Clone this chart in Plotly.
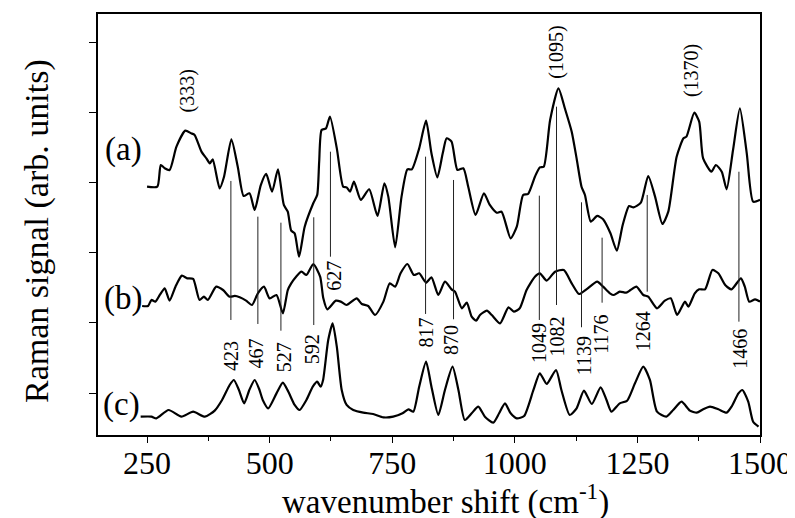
import plotly.graph_objects as go

# ---------------- data ----------------
a_x = [250, 271, 278, 286, 296, 310, 328, 340, 347, 361, 371, 378, 384, 398, 407, 422, 435, 447, 459, 469.5,
       482, 493, 505, 517, 529, 537, 544, 551, 560, 571.5, 589, 597, 601, 606, 615, 623, 637, 650, 657, 664,
       672, 686, 703, 720, 734, 742, 756, 769, 781, 790, 805, 819, 830, 842, 853, 861, 871, 883, 895, 905,
       920, 937, 949, 963, 973, 991.5, 1004, 1017, 1027, 1041, 1051, 1059, 1072, 1089, 1102, 1116, 1126, 1136, 1143, 1155,
       1168, 1180, 1195, 1208, 1220, 1233, 1242, 1257, 1272, 1286, 1301, 1313, 1330, 1344, 1350, 1366, 1376, 1384, 1401, 1410,
       1422, 1432, 1445, 1459, 1473, 1486, 1500]
a_y = [2.947, 2.947, 3.257, 3.21, 3.186, 3.519, 3.748, 3.71, 3.686, 3.448, 3.352, 3.281, 3.338, 2.924, 3.09, 3.624, 3.233, 2.814, 2.852, 2.614,
       2.971, 3.129, 2.876, 3.195, 2.686, 2.59, 2.319, 2.281, 1.948, 2.376, 2.71, 2.83, 3.3, 3.757, 3.78, 3.95, 3.495, 2.947, 2.938, 2.876,
       3.019, 2.757, 2.91, 2.529, 2.995, 2.805, 2.081, 2.805, 3.195, 3.195, 3.495, 3.89, 3.424, 3.081, 3.424, 3.638, 3.59, 3.186, 3.21, 2.947,
       2.543, 2.852, 2.686, 2.576, 2.59, 2.21, 2.376, 2.829, 2.843, 3.09, 3.224, 3.233, 3.9, 4.352, 4.067, 3.733, 3.352, 2.947, 2.829, 2.448,
       2.529, 2.481, 2.281, 2.033, 2.4, 2.671, 2.652, 2.719, 3.1, 2.805, 2.414, 2.59, 3.376, 3.638, 3.662, 4.005, 3.876, 3.352, 3.162, 3.257,
       3.162, 2.91, 3.471, 4.067, 3.424, 2.733, 2.76]

b_x = [240, 252, 259, 267, 276, 286, 296, 308, 321, 332, 344, 357, 366, 374, 391, 405, 418.5, 429, 439, 452,
       464, 476, 488.5, 500, 514, 527, 537, 544, 554, 565, 575, 589, 603, 609.5, 617.5, 635, 645, 657, 677.5, 688,
       701, 715, 732, 745, 756, 767, 781, 794, 805, 819, 830, 844, 857.5, 871, 878, 892, 902, 912, 921, 929,
       943, 953, 970, 987, 998, 1010, 1024, 1041, 1051, 1065, 1082, 1100, 1116, 1131, 1146, 1168, 1180, 1194, 1202, 1214,
       1227, 1236, 1248, 1262, 1272, 1290, 1306, 1318, 1331, 1347, 1354, 1367, 1376, 1388, 1403, 1415, 1429, 1442, 1461, 1469,
       1478, 1490, 1500]
b_y = [1.243, 1.243, 1.329, 1.305, 1.4, 1.495, 1.319, 1.519, 1.676, 1.638, 1.629, 1.329, 1.376, 1.329, 1.519, 1.471, 1.376, 1.386, 1.367, 1.319,
       1.257, 1.424, 1.519, 1.352, 1.4, 1.138, 1.471, 1.567, 1.662, 1.733, 1.686, 1.843, 1.662, 1.352, 1.195, 1.319, 1.305, 1.257, 1.352, 1.271,
       1.243, 1.114, 1.305, 1.567, 1.519, 1.71, 1.843, 1.686, 1.71, 1.576, 1.652, 1.4, 1.59, 1.481, 1.448, 1.21, 1.29, 1.09, 1.033, 1.114,
       1.176, 1.114, 0.995, 1.224, 1.162, 1.21, 1.471, 1.662, 1.71, 1.605, 1.733, 1.757, 1.567, 1.414, 1.481, 1.59, 1.519, 1.424, 1.4, 1.448,
       1.433, 1.471, 1.519, 1.4, 1.376, 1.21, 1.319, 1.352, 1.114, 1.305, 1.233, 1.424, 1.481, 1.481, 1.757, 1.71, 1.543, 1.481, 1.638, 1.519,
       1.305, 1.338, 1.305]

c_x = [237, 259, 269, 294, 320, 344, 368, 388, 403, 418.5, 427, 437, 448, 459, 469.5, 479, 486, 497, 514, 527,
       538, 551, 561, 575, 588, 597, 604, 609, 619.5, 628.5, 637, 647, 657, 670.5, 691, 711, 732, 752, 771, 783,
       793, 805, 819, 830, 844, 857.5, 873, 885, 898, 912, 925.5, 939, 956, 968, 980, 991.5, 1004, 1019, 1038, 1051,
       1065, 1084, 1095, 1112, 1126, 1141, 1157, 1175, 1187, 1197, 1214, 1229, 1245, 1262, 1275.5, 1290, 1309, 1323, 1340, 1357,
       1371, 1384, 1398, 1415, 1432, 1442, 1456, 1464, 1476, 1486, 1497]
c_y = [-0.338, -0.338, -0.362, -0.243, -0.338, -0.267, -0.338, -0.252, -0.1, 0.114, 0.186, 0.05, -0.148, 0.05, 0.186, 0.05, -0.1, -0.219, -0.005, 0.148,
       0.02, -0.171, -0.243, -0.1, 0.09, 0.162, 0.09, 0.186, 0.757, 0.995, 0.662, 0.043, -0.171, -0.243, -0.281, -0.3, -0.348, -0.338, -0.29, -0.233,
       -0.267, 0.09, 0.448, 0.09, -0.314, 0.043, 0.376, 0.043, -0.386, -0.29, -0.195, -0.338, -0.424, -0.29, -0.148, -0.29, -0.362, -0.329, 0.043, 0.281,
       0.129, 0.329, 0.043, -0.314, -0.219, 0.033, -0.157, 0.081, -0.1, -0.267, -0.148, -0.11, 0.138, 0.376, 0.186, -0.267, -0.338, -0.243, -0.124, -0.252,
       -0.281, -0.233, -0.195, -0.233, -0.281, -0.195, -0.005, 0.043, -0.124, -0.41, -0.481]

# peak markers (vertical lines) and their labels
peak_labels = ["423", "467", "527", "592", "627", "817", "870", "1049", "1082", "1139", "1176", "1264", "1466"]
peak_line_x = [421, 476, 523, 590, 624, 818, 875, 1050, 1085, 1136, 1178, 1270, 1457]
peak_line_top = [3.029, 2.519, 2.433, 2.51, 3.447, 3.376, 3.043, 2.819, 4.09, 2.724, 2.219, 2.829, 3.161]
peak_line_bottom = [1.043, 0.986, 0.89, 0.971, 1.947, 1.129, 1.053, 1.043, 1.257, 0.939, 1.29, 1.447, 1.019]
peak_label_x = [420, 473, 529, 586, 630.5, 818, 870, 1048, 1087, 1141.5, 1175.5, 1262, 1459]
peak_label_y = [0.533, 0.571, 0.507, 0.621, 1.671, 0.857, 0.757, 0.721, 0.814, 0.529, 0.843, 0.886, 0.629]

top_labels = ["(333)", "(1095)", "(1370)"]
top_label_x = [333, 1086, 1360]
top_label_y = [4.317, 4.876, 4.603]

curve_names = ["(a)", "(b)", "(c)"]
curve_name_x = [202, 200.5, 198]
curve_name_y = [3.48, 1.35, -0.16]

x_ticks = [250, 500, 750, 1000, 1250, 1500]
y_ticks = [0, 1, 2, 3, 4, 5]

FONT = "Liberation Serif, Times New Roman, serif"

# target plot box in screen pixels (page body adds an 8px offset)
OFF = 8
L, R, T, B = 98, 760, 14, 435
W, H = R - L, B - T

fig = go.Figure()
for xs, ys in [(a_x, a_y), (b_x, b_y), (c_x, c_y)]:
    fig.add_trace(go.Scatter(x=xs, y=ys, mode="lines",
                             line=dict(color="black", width=2.2, shape="spline", smoothing=0.6),
                             showlegend=False, hoverinfo="skip"))

shapes = []
for xv, y0, y1 in zip(peak_line_x, peak_line_bottom, peak_line_top):
    shapes.append(dict(type="line", xref="x", yref="y", x0=xv, x1=xv, y0=y0, y1=y1,
                       line=dict(color="#222", width=1)))

annotations = []
for t, xv, yv in zip(peak_labels, peak_label_x, peak_label_y):
    annotations.append(dict(x=xv, y=yv, xref="x", yref="y", text=t, showarrow=False,
                            textangle=-90, font=dict(family=FONT, size=20, color="black")))
for t, xv, yv in zip(top_labels, top_label_x, top_label_y):
    annotations.append(dict(x=xv, y=yv, xref="x", yref="y", text=t, showarrow=False,
                            textangle=-90, font=dict(family=FONT, size=20, color="black")))
for t, xv, yv in zip(curve_names, curve_name_x, curve_name_y):
    annotations.append(dict(x=xv, y=yv, xref="x", yref="y", text=t, showarrow=False,
                            font=dict(family=FONT, size=33, color="black")))

# axis titles (paper coords are relative to the plot box)
annotations.append(dict(x=(446 - L) / W, y=(B - 499) / H, xref="paper", yref="paper",
                        xanchor="center", yanchor="middle",
                        text="wavenumber shift (cm<sup>-1</sup>)", showarrow=False,
                        font=dict(family=FONT, size=33, color="black")))
annotations.append(dict(x=(37 - L) / W, y=(B - 231) / H, xref="paper", yref="paper",
                        xanchor="center", yanchor="middle",
                        text="Raman signal (arb. units)", showarrow=False, textangle=-90,
                        font=dict(family=FONT, size=34, color="black")))

fig.update_layout(
    width=795, height=518,
    margin=dict(l=L - OFF, r=795 - R + OFF, t=T - OFF, b=518 - B + OFF, autoexpand=False),
    paper_bgcolor="white", plot_bgcolor="white",
    shapes=shapes, annotations=annotations,
    font=dict(family=FONT, color="black"),
)
fig.update_xaxes(range=[150, 1500], tickmode="array", tickvals=x_ticks,
                 ticktext=[str(v) for v in x_ticks],
                 ticks="outside", ticklen=6, tickwidth=1.2, tickcolor="black",
                 ticklabelstandoff=-7,
                 minor=dict(tickmode="linear", tick0=125, dtick=250, ticks="outside", ticklen=4, tickcolor="black"),
                 showline=True, linecolor="black", linewidth=1.5, mirror=True,
                 showgrid=False, zeroline=False, automargin=False,
                 tickfont=dict(family=FONT, size=32, color="black"))
fig.update_yaxes(range=[-0.6, 5.414], tickmode="array", tickvals=y_ticks, showticklabels=False,
                 ticks="outside", ticklen=7, tickwidth=1.2, tickcolor="black",
                 showline=True, linecolor="black", linewidth=1.5, mirror=True,
                 showgrid=False, zeroline=False, automargin=False)

fig.write_html("out.html")
